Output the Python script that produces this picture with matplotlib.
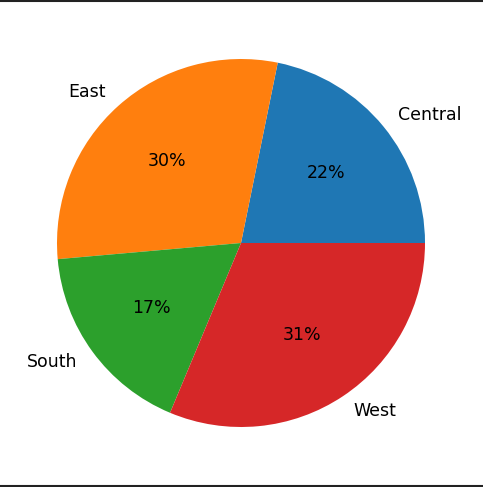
import matplotlib.pyplot as plt
from matplotlib.lines import Line2D

regions = ["Central", "East", "South", "West"]
share = [21.8, 29.6, 17.3, 31.3]

W, H = 483, 487
fig = plt.figure(figsize=(W / 100, H / 100), dpi=100)

cx, cy, r = 241, 243, 184
half = r * 1.25
ax = fig.add_axes([(cx - half) / W, (H - cy - half) / H, 2 * half / W, 2 * half / H])
ax.pie(share, labels=regions, autopct="%1.0f%%", textprops={"fontsize": 12.5})

# screenshot border lines
fig.add_artist(Line2D([0, 1], [1 - 1 / H, 1 - 1 / H], color="#222222", lw=1.5))
fig.add_artist(Line2D([0, 1], [1.5 / H, 1.5 / H], color="#222222", lw=1.5))

fig.savefig("out.png", dpi=100)
